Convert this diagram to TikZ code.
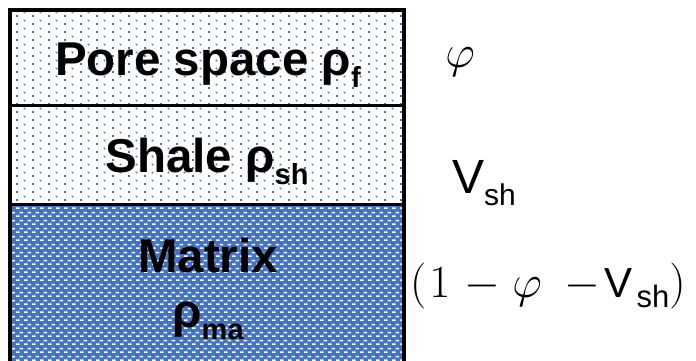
\documentclass[tikz,border=0pt]{standalone}
\usepackage{fix-cm}
\usepackage{fontspec}
\setmainfont{Liberation Sans}
\usetikzlibrary{patterns.meta}
\definecolor{lyrblue}{RGB}{68,114,196}
\tikzdeclarepattern{name=bluedots, type=uncolored,
  bottom left={(0pt,0pt)}, top right={(16pt,8pt)}, tile size={(16pt,8pt)},
  code={\fill (0pt,0pt) rectangle (2pt,2pt); \fill (8pt,4pt) rectangle (10pt,6pt);}}
\tikzdeclarepattern{name=whitedash, type=uncolored,
  bottom left={(0pt,0pt)}, top right={(8pt,8pt)}, tile size={(8pt,8pt)},
  code={\fill (0pt,0pt) rectangle (4pt,1.8pt); \fill (4pt,4pt) rectangle (8pt,5.8pt);}}
\newcommand\lsub[2][29]{\raisebox{-0.26em}{\fontsize{#1}{#1}\selectfont #2}}
\tikzset{
  dotlayer/.style={fill=white, postaction={pattern=bluedots, pattern color=lyrblue}},
  dashlayer/.style={fill=lyrblue, postaction={pattern=whitedash, pattern color=white}},
  boxline/.style={draw=black, line width=3.5pt},
  layertext/.style={inner sep=0pt, anchor=base, font=\fontsize{47.5}{50}\selectfont\bfseries},
  sidetext/.style={inner sep=0pt, anchor=base west},
}
\begin{document}
\begin{tikzpicture}[x=1pt, y=-1pt]
\path[use as bounding box] (0,0) rectangle (696,361);
\clip (0,0) rectangle (696,361);
% layers
\path[dotlayer] (10,10) rectangle (404,106);
\path[dotlayer] (10,106) rectangle (404,204);
\path[dashlayer] (10,204) rectangle (404,380);
\draw[boxline] (10,10) rectangle (404,380);
\draw[boxline] (10,105.5) -- (404,105.5);
\draw[boxline, line width=3pt] (10,204) -- (404,204);
% layer labels
\node[layertext] (pore) at (208,75) {Pore space ρ\lsub{f}};
\node[layertext] (shale) at (207,172) {Shale ρ\lsub{sh}};
\node[layertext] (matrix) at (208,272) {Matrix};
\node[layertext] (rhoma) at (208,327) {ρ\lsub{ma}};
% side labels
\node[inner sep=0pt, anchor=center, font=\fontsize{46}{50}\selectfont] (phi) at (460,62) {$\varphi$};
\node[sidetext, font=\fontsize{48}{50}\selectfont] (vsh) at (452,193) {V\lsub[30]{sh}};
\node[sidetext, font=\fontsize{46}{50}\selectfont] (rest) at (410,297)
  {$($\hspace{3pt}$1$\hspace{14pt}$-$\hspace{12pt}$\varphi$\hspace{23pt}$-$\hspace{4pt}{\fontsize{42}{46}\selectfont V\hspace{4pt}\lsub[31]{sh}}$)$};
\end{tikzpicture}
\end{document}
